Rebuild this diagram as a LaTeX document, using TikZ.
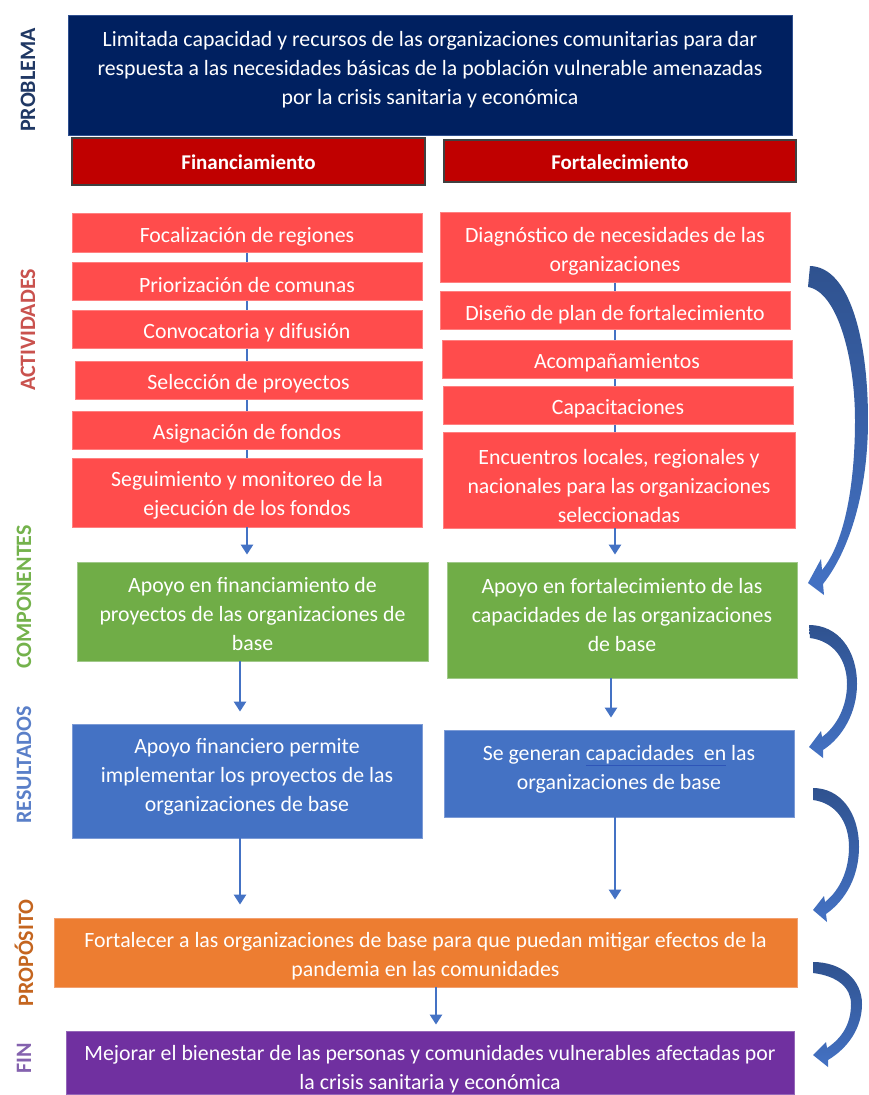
\documentclass[tikz,border=0pt]{standalone}
\usepackage{fontspec}
\setmainfont{Carlito}
\usetikzlibrary{fit,arrows.meta,backgrounds,calc}

\definecolor{navy}{HTML}{002060}
\definecolor{navyedge}{HTML}{2F4F8F}
\definecolor{hdred}{HTML}{C00000}
\definecolor{hdedge}{HTML}{404040}
\definecolor{actred}{HTML}{FF4C4C}
\definecolor{actedge}{HTML}{FF8080}
\definecolor{cgreen}{HTML}{70AD47}
\definecolor{cgreenedge}{HTML}{A0C98A}
\definecolor{rblue}{HTML}{4472C4}
\definecolor{rblueedge}{HTML}{7C9BD6}
\definecolor{porange}{HTML}{ED7D31}
\definecolor{porangeedge}{HTML}{F2A070}
\definecolor{fpurple}{HTML}{7030A0}
\definecolor{fpurpleedge}{HTML}{9466B8}
\definecolor{flowblue}{HTML}{4472C4}
\definecolor{bentdark}{HTML}{2F528F}
\definecolor{bentlight}{HTML}{4472C4}
\definecolor{ulblue}{HTML}{2E55B8}
\definecolor{lbnavy}{HTML}{203864}
\definecolor{lbred}{HTML}{C9524E}
\definecolor{lbgreen}{HTML}{74B24C}
\definecolor{lbblue}{HTML}{5A7FC8}
\definecolor{lborange}{HTML}{C4651F}
\definecolor{lbpurple}{HTML}{8462AE}

\tikzset{
  box/.style={inner sep=0pt, line width=0.8pt},
  prob/.style={box, fill=navy, draw=navyedge},
  head/.style={box, fill=hdred, draw=hdedge, line width=1.2pt},
  act/.style={box, fill=actred, draw=actedge},
  comp/.style={box, fill=cgreen, draw=cgreenedge},
  res/.style={box, fill=rblue, draw=rblueedge},
  prop/.style={box, fill=porange, draw=porangeedge},
  fin/.style={box, fill=fpurple, draw=fpurpleedge},
  txt/.style={text=white, align=center, inner sep=0pt,
    font=\fontsize{21.8}{29}\selectfont},
  htxt/.style={text=white, align=center, inner sep=0pt,
    font=\fontsize{21}{24}\selectfont\bfseries},
  side/.style={rotate=90, inner sep=0pt,
    font=\fontsize{22}{24}\selectfont\bfseries},
  flow/.style={draw=flowblue, line width=2.5pt,
    -{Triangle[width=12pt,length=10pt]}},
  spine/.style={draw=flowblue, line width=2.5pt},
  bent/.style={top color=bentdark, bottom color=bentlight, draw=none},
}

% box from corner (x1,y1) to (x2,y2), text moved up by dy
\newcommand\mkbox[8]{%
  \node[#1, fit={(#3,#4) (#5,#6)}] (#2) {};
  \node[txt] (#2t) at ([yshift=#7pt]#2.center) {#8};
}

\begin{document}
\begin{tikzpicture}[x=1pt, y=-1pt]
\useasboundingbox (0,0) rectangle (869,1095);

% level labels
\node[side, text=lbnavy]   (lprob) at (28,80)   {PROBLEMA};
\node[side, text=lbred]    (lact)  at (28,330)  {ACTIVIDADES};
\node[side, text=lbgreen]  (lcomp) at (24,597)  {COMPONENTES};
\node[side, text=lbblue]   (lres)  at (24,765)  {RESULTADOS};
\node[side, text=lborange] (lprop) at (24,953)  {PROPÓSITO};
\node[side, text=lbpurple] (lfin)  at (24,1058) {FIN};

% problem
\mkbox{prob}{pb}{68}{15}{792}{135}{5}{Limitada capacidad y recursos de las organizaciones comunitarias para dar\\
respuesta a las necesidades básicas de la población vulnerable amenazadas\\
por la crisis sanitaria y económica}

% column headers
\node[head, fit={(72,138) (425,185)}] (h1) {};
\node[htxt] (h1t) at ([yshift=-1pt]h1.center) {Financiamiento};
\node[head, fit={(444,140) (796,182)}] (h2) {};
\node[htxt] (h2t) at ([yshift=-1pt]h2.center) {Fortalecimiento};

% activities: financing
\mkbox{act}{f1}{72}{213}{422}{252}{-4}{Focalización de regiones}
\mkbox{act}{f2}{72}{262}{422}{300}{-4}{Priorización de comunas}
\mkbox{act}{f3}{72}{310}{422}{348}{-4}{Convocatoria y difusión}
\mkbox{act}{f4}{75}{361}{422}{399}{-4}{Selección de proyectos}
\mkbox{act}{f5}{72}{411}{422}{449}{-4}{Asignación de fondos}
\mkbox{act}{f6}{72}{458}{422}{527}{-3}{Seguimiento y monitoreo de la\\ejecución de los fondos}

% activities: strengthening
\mkbox{act}{d1}{440}{212}{790}{282}{-4}{Diagnóstico de necesidades de las\\organizaciones}
\mkbox{act}{d2}{440}{291}{790}{329}{-5}{Diseño de plan de fortalecimiento}
\mkbox{act}{d3}{442}{340}{792}{378}{-4}{Acompañamientos}
\mkbox{act}{d4}{443}{386}{793}{424}{-4}{Capacitaciones}
\mkbox{act}{d5}{443}{432}{795}{528}{-6}{Encuentros locales, regionales y\\nacionales para las organizaciones\\seleccionadas}

% components
\mkbox{comp}{c1}{77}{562}{428}{661}{-3}{Apoyo en financiamiento de\\proyectos de las organizaciones de\\base}
\mkbox{comp}{c2}{447}{562}{797}{678}{5}{Apoyo en fortalecimiento de las\\capacidades de las organizaciones\\de base}

% results
\mkbox{res}{r1}{72}{724}{422}{838}{4}{Apoyo financiero permite\\implementar los proyectos de las\\organizaciones de base}
\mkbox{res}{r2}{444}{730}{794}{817}{4}{Se generan {\color{ulblue}\underline{\textcolor{white}{capacidades\ \ en}}} las\\organizaciones de base}

% purpose and goal
\mkbox{prop}{p}{54}{918}{797}{987}{-4}{Fortalecer a las organizaciones de base para que puedan mitigar efectos de la\\pandemia en las comunidades}
\mkbox{fin}{fn}{66}{1031}{794}{1094}{-7}{Mejorar el bienestar de las personas y comunidades vulnerables afectadas por\\la crisis sanitaria y económica}

% spines behind the activity stacks
\begin{scope}[on background layer]
  \draw[spine] (f1.center) -- (f6.center);
  \draw[spine] (d1.center) -- (d1.center |- d5.center);
\end{scope}

% vertical flow arrows
\draw[flow, shorten >=7pt] (f6.south) -- (f6.south |- c1.north);
\draw[flow, shorten >=7pt] (d1.center |- d5.south) -- (d1.center |- c2.north);
\draw[flow, shorten >=12pt] ([xshift=-7pt]r1.north |- c1.south) -- ([xshift=-7pt]r1.north);
\draw[flow, shorten >=12pt] ([xshift=-8pt]r2.north |- c2.south) -- ([xshift=-8pt]r2.north);
\draw[flow, shorten >=13pt] ([xshift=-7pt]r1.south) -- ([xshift=-7pt]r1.south |- p.north);
\draw[flow, shorten >=18pt] ([xshift=-4pt]r2.south) -- ([xshift=-4pt]r2.south |- p.north);
\draw[flow, shorten >=6pt] ([xshift=10.5pt]p.south) -- ([xshift=10.5pt]p.south |- fn.north);

% curved block arrows on the right
\path[bent] (810,266) -- (808,287) .. controls (838,292) and (855,360) .. (855,420)
  .. controls (855,490) and (843,545) .. (822,570) -- (821,559) -- (808,583) -- (824,595)
  -- (823,584) .. controls (850,550) and (868,490) .. (868,420)
  .. controls (868,340) and (850,267) .. (810,266) -- cycle;
\path[bent] (809,625) -- (810,638) .. controls (834,641) and (847,660) .. (847,684)
  .. controls (847,706) and (837,726) .. (822,737) -- (821,731) -- (809,747) -- (823,758)
  -- (823,750) .. controls (843,737) and (857,712) .. (857,684)
  .. controls (857,650) and (838,625) .. (809,625) -- cycle;
\path[bent] (813,788) -- (813,800) .. controls (836,803) and (849,822) .. (849,847)
  .. controls (849,870) and (840,890) .. (825,902) -- (824,896) -- (813,910) -- (827,922)
  -- (826,914) .. controls (846,900) and (859,876) .. (859,847)
  .. controls (859,812) and (840,788) .. (813,788) -- cycle;
\path[bent] (813,962) -- (813,973) .. controls (838,976) and (851,988) .. (851,1004)
  .. controls (851,1024) and (842,1038) .. (827,1048) -- (826,1042) -- (813,1055) -- (828,1067)
  -- (828,1060) .. controls (848,1048) and (862,1028) .. (862,1004)
  .. controls (862,980) and (842,962) .. (813,962) -- cycle;
\end{tikzpicture}
\end{document}
